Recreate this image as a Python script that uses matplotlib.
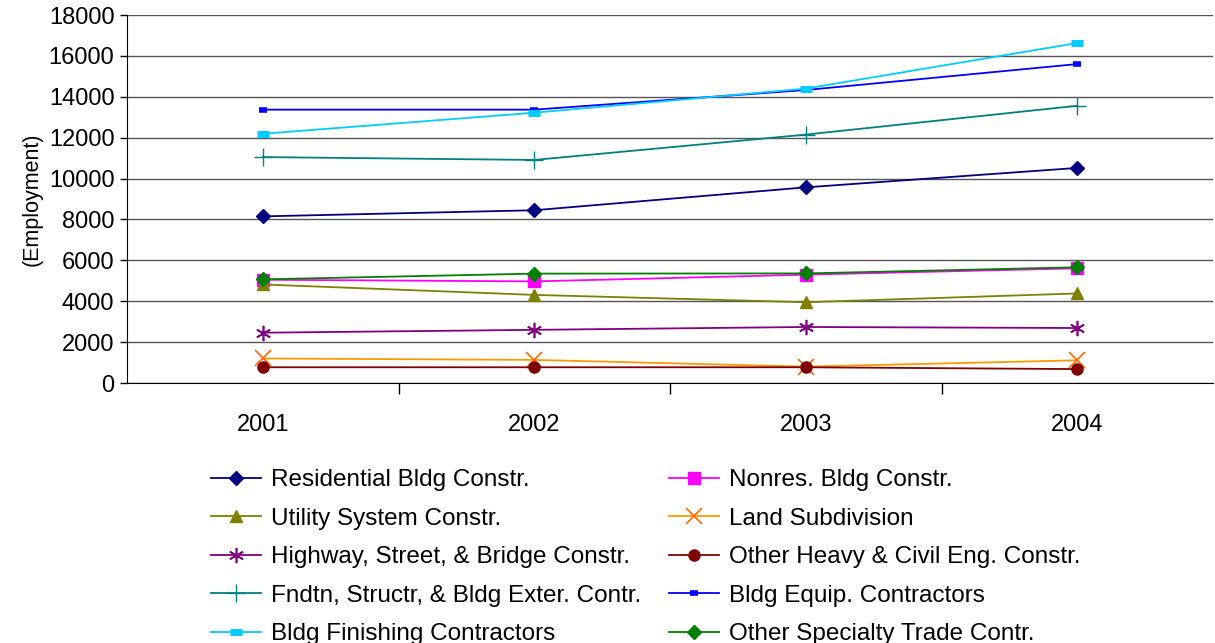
import matplotlib
matplotlib.use("Agg")
import matplotlib.pyplot as plt
from matplotlib.ticker import FixedLocator, NullFormatter

plt.rcParams['font.family'] = ['Liberation Sans', 'DejaVu Sans']

years = ["2001", "2002", "2003", "2004"]

residential = [8150, 8450, 9570, 10520]
nonres = [5050, 4970, 5300, 5610]
utility = [4820, 4310, 3950, 4380]
land = [1200, 1130, 800, 1110]
highway = [2460, 2600, 2740, 2690]
other_heavy = [770, 770, 770, 680]
fndtn = [11050, 10910, 12150, 13560]
equip = [13370, 13370, 14330, 15600]
finishing = [12190, 13220, 14400, 16630]
other_specialty = [5070, 5350, 5360, 5660]

series = [
    ("Residential Bldg Constr.", residential, "#000080", dict(marker="D", ms=7)),
    ("Nonres. Bldg Constr.", nonres, "#FF00FF", dict(marker="s", ms=8)),
    ("Utility System Constr.", utility, "#808000", dict(marker="^", ms=9)),
    ("Land Subdivision", land, "#FF9900", dict(marker="x", ms=11, mew=1.2, mec="#FF6600")),
    ("Highway, Street, & Bridge Constr.", highway, "#800080", dict(marker=(6, 2, 0), ms=11, mew=1.2)),
    ("Other Heavy & Civil Eng. Constr.", other_heavy, "#800000", dict(marker="o", ms=8)),
    ("Fndtn, Structr, & Bldg Exter. Contr.", fndtn, "#008080", dict(marker="+", ms=13, mew=1.0)),
    ("Bldg Equip. Contractors", equip, "#0000FF", dict(marker="_", ms=6, mew=4)),
    ("Bldg Finishing Contractors", finishing, "#00CCFF", dict(marker="_", ms=9, mew=5)),
    ("Other Specialty Trade Contr.", other_specialty, "#008000", dict(marker="D", ms=7)),
]

fig = plt.figure(figsize=(12.15, 6.43), dpi=100)
ax = fig.add_axes([127 / 1215, 1 - 383 / 643, (1213 - 127) / 1215, (383 - 15) / 643])

x = list(range(len(years)))
handles = []
for label, vals, color, mk in series:
    kw = dict(mk)
    kw.setdefault("mec", color)
    line, = ax.plot(x, vals, color=color, lw=1.3, mfc=color, label=label, **kw)
    handles.append(line)

ax.set_xlim(-0.5, 3.5)
ax.set_ylim(0, 18000)
ax.set_yticks(range(0, 18001, 2000))
ax.yaxis.grid(True, color="#555555", lw=1)
ax.set_axisbelow(True)

ax.set_xticks(x)
ax.set_xticklabels(years)
ax.tick_params(axis="x", which="major", length=0, pad=22, labelsize=17)
ax.xaxis.set_minor_locator(FixedLocator([0.5, 1.5, 2.5]))
ax.xaxis.set_minor_formatter(NullFormatter())
ax.tick_params(axis="x", which="minor", length=8, width=1, direction="out", color="black")
ax.tick_params(axis="y", length=5, width=1, direction="out", labelsize=17, pad=4)

for s in ["top", "right"]:
    ax.spines[s].set_visible(False)
ax.spines["left"].set_color("black")
ax.spines["bottom"].set_color("black")

ax.set_ylabel("(Employment)", fontsize=15.5, labelpad=4.5)

# two-column legend filled row by row
order = [0, 2, 4, 6, 8, 1, 3, 5, 7, 9]
leg_h = [handles[i] for i in order]
leg_l = [series[i][0] for i in order]
ax.legend(leg_h, leg_l, loc="upper left", bbox_to_anchor=(211 / 1215, 1 - 469 / 643),
          bbox_transform=fig.transFigure, ncol=2, frameon=False,
          fontsize=17.5, handlelength=2.05, handletextpad=0.4,
          columnspacing=1.17, labelspacing=0.68, borderaxespad=0, borderpad=0)

fig.savefig("out.png", dpi=100)
